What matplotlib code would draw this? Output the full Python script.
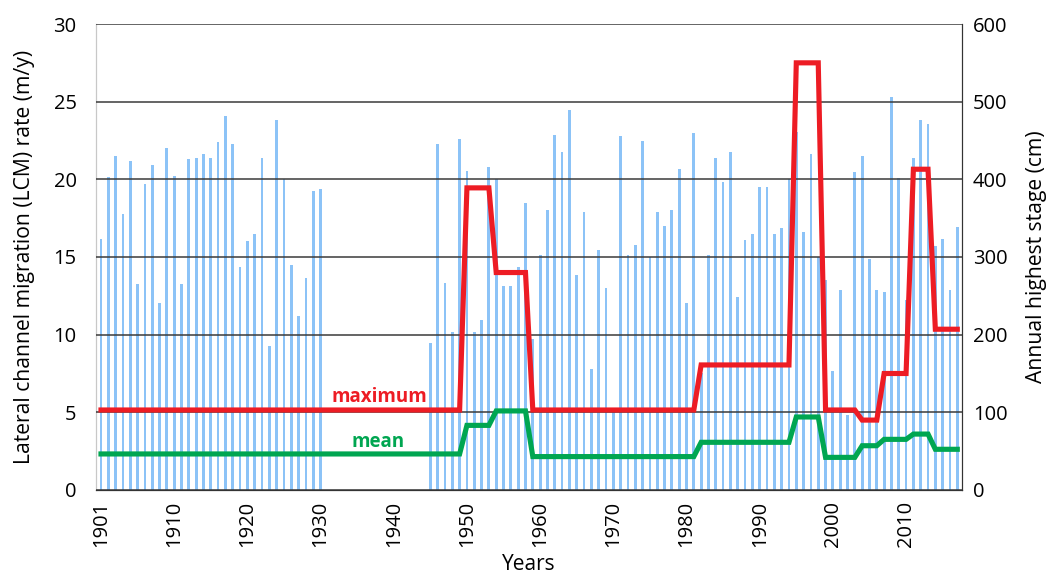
import numpy as np
import matplotlib.pyplot as plt

plt.rcParams['font.family'] = ['Open Sans', 'DejaVu Sans']

# one bar per year, no stage record for 1931-1944
tick_labels = ["1901", "1910", "1920", "1930", "1940", "1950",
               "1960", "1970", "1980", "1990", "2000", "2010"]

# annual highest stage (cm)
stage = [323, 403, 430, 355, 424, 265, 394, 418, 241, 440,
         404, 265, 426, 428, 433, 428, 448, 482, 445, 287,
         321, 330, 428, 185, 477, 400, 290, 224, 273, 385,
         387] + [np.nan] * 14 + \
        [189, 445, 267, 204, 452,
         411, 204, 219, 416, 401, 263, 263, 287, 370, 195,
         303, 360, 457, 435, 489, 277, 358, 156, 309, 260,
         100, 456, 302, 316, 449, 300, 358, 340, 360, 413,
         241, 460, 150, 303, 428, 397, 435, 248, 322, 330,
         390, 390, 330, 337, 400, 461, 332, 432, 300, 270,
         153, 257, 96, 410, 430, 297, 257, 255, 506, 402,
         244, 427, 476, 471, 314, 323, 257, 338]

# LCM rate (m/y), constant within each survey period
period_years = [50, 4, 5, 23, 13, 4, 5, 3, 4, 3, 4]
lcm_max = [5.15, 19.45, 14.0, 5.15, 8.05, 27.5, 5.15, 4.5, 7.5, 20.65, 10.35]
lcm_mean = [2.32, 4.16, 5.09, 2.15, 3.07, 4.7, 2.1, 2.85, 3.26, 3.6, 2.62]

x = np.arange(len(stage))
max_line = np.repeat(lcm_max, period_years)
mean_line = np.repeat(lcm_mean, period_years)

fig = plt.figure(figsize=(10.47, 5.77), dpi=100)
ax = fig.add_axes([0.0917, 0.1508, 0.8271, 0.8076])
ax2 = ax.twinx()

ax2.bar(x, stage, width=0.38, color='#8cc3f7', edgecolor='none', zorder=1)
ax2.set_ylim(0, 600)
ax2.set_yticks(range(0, 601, 100))

ax.set_zorder(ax2.get_zorder() + 1)
ax.patch.set_visible(False)
ax.plot(x, max_line, color='#ed1c24', lw=3.7, solid_joinstyle='miter', zorder=4)
ax.plot(x, mean_line, color='#00a651', lw=3.7, solid_joinstyle='miter', zorder=4)
ax.text(38, 6.0, "maximum", color='#ed1c24', fontsize=13.5, fontweight='bold',
        ha='center', va='center', zorder=5)
ax.text(37.8, 3.1, "mean", color='#00a651', fontsize=13.5, fontweight='bold',
        ha='center', va='center', zorder=5)

ax.set_ylim(0, 30)
ax.set_yticks(range(0, 31, 5))
ax.set_xlim(-0.68, len(stage) - 1 + 0.64)
ax.set_xticks(x[::10])
ax.set_xticklabels(tick_labels, rotation=90)
ax.grid(axis='y', color='#3a3a3a', lw=1.1, zorder=2)
ax.set_axisbelow(False)

for a in (ax, ax2):
    a.tick_params(length=0, labelsize=14.5)
    a.spines['top'].set_visible(False)
ax.tick_params(axis='y', pad=14)
ax.tick_params(axis='x', pad=8)
ax2.tick_params(axis='y', pad=8)
ax.spines['left'].set_color('#c8c8c8')
ax2.spines['left'].set_color('#c8c8c8')
ax.spines['right'].set_color('#333333')
ax2.spines['right'].set_color('#333333')
ax.spines['bottom'].set_color('#333333')

ax.set_xlabel("Years", fontsize=15, labelpad=5)
ax.set_ylabel("Lateral channel migration (LCM) rate (m/y)", fontsize=15.2, labelpad=13)
ax2.set_ylabel("Annual highest stage (cm)", fontsize=15.2, rotation=90, labelpad=13)

fig.savefig("out.png", dpi=100)
